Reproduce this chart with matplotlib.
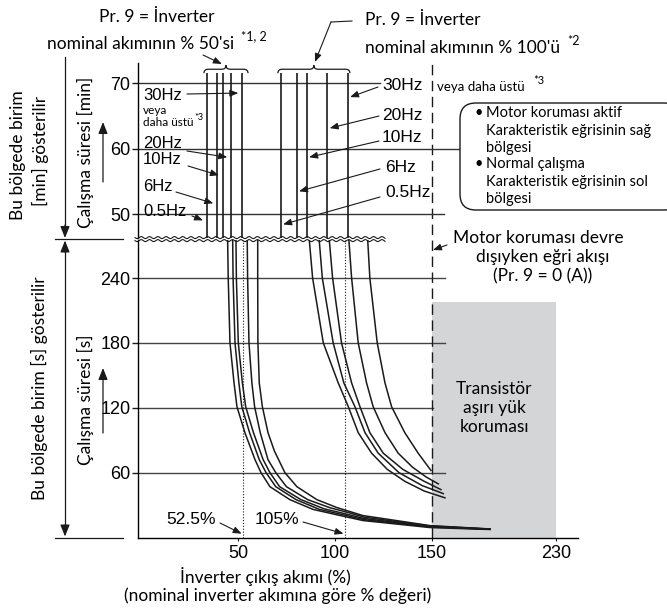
import numpy as np
import matplotlib
matplotlib.use("Agg")
import matplotlib.pyplot as plt
from matplotlib.patches import FancyBboxPatch, Rectangle, PathPatch, FancyArrowPatch
from matplotlib.path import Path
from matplotlib.lines import Line2D
from matplotlib.transforms import IdentityTransform

# ---------------- data ----------------
x_ticks = [50, 100, 150, 230]
x_ticklabels = ["50", "100", "150", "230"]
y_ticks_min = [50, 60, 70]
y_ticks_s = [60, 120, 180, 240]
freq_labels = ["0.5Hz", "6Hz", "10Hz", "20Hz", "30Hz"]

# vertical lines in the [min] region
upper_50 = [33.9, 39.2, 42.1, 46.4, 52.1]
upper_100 = [72.0, 80.2, 85.4, 96.0, 106.5]

# curves in the [s] region, Pr.9 = 50 %
c50_x = [
    [44.7, 45.0, 45.9, 48.0, 49.5, 53.6, 58.8, 61.9, 66.5, 76.8, 88.7, 101, 114.4, 149, 187.4],
    [47.3, 47.5, 48.5, 50.5, 52.0, 56.0, 61.0, 64.5, 69.5, 80.0, 92.0, 103, 115.0, 149, 187.4],
    [49.0, 49.2, 50.2, 52.3, 54.0, 58.0, 63.0, 66.5, 71.5, 82.5, 94.5, 104, 115.0, 149, 187.4],
    [54.8, 55.0, 55.7, 57.2, 58.6, 61.5, 65.5, 69.5, 75.0, 86.0, 97.5, 106, 115.0, 149, 187.4],
    [60.2, 60.2, 60.3, 61.0, 62.6, 65.5, 68.8, 74.2, 80.4, 90.7, 101, 114.4, 149, 187.4],
]
c50_t = [
    [275, 240, 180, 143, 121, 97, 72, 60, 47, 35, 26.0, 21.0, 15.7, 9.2, 7.4],
    [275, 240, 180, 143, 121, 97, 72, 60, 47, 35, 26.0, 21.5, 16.5, 9.8, 7.6],
    [275, 240, 180, 143, 121, 97, 72, 60, 47, 35, 26.5, 22.5, 17.5, 10.2, 7.7],
    [275, 240, 180, 143, 121, 97, 72, 60, 47, 35, 27.5, 23.5, 18.8, 10.6, 7.8],
    [275, 240, 180, 143, 121, 97, 80, 60, 47, 35, 27.7, 20.3, 11.0, 7.9],
]
# curves in the [s] region, Pr.9 = 100 %
c100_x = [
    [86.8, 88.5, 94.0, 101.7, 106.9, 112.0, 118.9, 127, 136, 146, 158.4],
    [91.9, 93.5, 99.1, 104.6, 110.3, 115.5, 122.3, 133, 145, 157.3],
    [97.1, 98.8, 103.4, 108.6, 112.9, 118.0, 124.9, 135, 146, 155.8],
    [107.2, 108.6, 112.0, 116.3, 119.7, 125.8, 132.6, 140, 147, 154.1],
    [116.9, 118.0, 121.8, 125.8, 129.2, 136.0, 142.9, 149.5],
]
c100_t = [
    [275, 240, 180, 143, 121, 97, 78, 63, 52, 43, 36.7],
    [275, 240, 180, 143, 121, 97, 78, 60, 48, 40.6],
    [275, 240, 180, 143, 121, 97, 78, 63, 52, 44.3],
    [275, 240, 180, 143, 121, 97, 78, 65, 56, 49.6],
    [275, 240, 180, 143, 121, 97, 78, 62],
]
pct_marks = [52.5, 105]
pct_labels = ["52.5%", "105%"]
no_protect_x = 150
transistor_zone = (150, 230, 218)

# ---------------- figure ----------------
W, H = 667, 609
fig = plt.figure(figsize=(W / 100, H / 100), dpi=100)
TXT = "Lato"
NUM = "Liberation Sans"
INK = "#1a1a1a"
ID = IdentityTransform()


def fp(x, y):
    return (x, H - y)


def fwd(x):
    x = np.asarray(x, float)
    return np.where(x <= 150, x, 150 + (x - 150) * 0.8)


def inv(x):
    x = np.asarray(x, float)
    return np.where(x <= 150, x, 150 + (x - 150) / 0.8)


ax_lo = fig.add_axes([138 / W, (H - 537.5) / H, 440 / W, (537.5 - 240) / H])
ax_hi = fig.add_axes([138 / W, (H - 238) / H, 440 / W, (238 - 63) / H])
for ax in (ax_lo, ax_hi):
    ax.set_xscale("function", functions=(fwd, inv))
    ax.set_xlim(-1.5, 244.1)
    ax.patch.set_alpha(0)
    for s in ("top", "right"):
        ax.spines[s].set_visible(False)
    ax.spines["left"].set_linewidth(1.0)
    ax.spines["bottom"].set_linewidth(1.0)
ax_lo.set_ylim(0, 275.2)
ax_hi.set_ylim(46.4, 73.05)
ax_hi.spines["bottom"].set_visible(False)

ax_hi.set_xticks([])
ax_hi.set_yticks(y_ticks_min)
ax_hi.set_yticklabels([str(v) for v in y_ticks_min], fontfamily=NUM, fontsize=13)
ax_lo.set_yticks(y_ticks_s)
ax_lo.set_yticklabels([str(v) for v in y_ticks_s], fontfamily=NUM, fontsize=13)
ax_lo.set_xticks(x_ticks)
ax_lo.set_xticklabels(x_ticklabels, fontfamily=NUM, fontsize=13)
ax_lo.xaxis.set_minor_locator(matplotlib.ticker.NullLocator())
ax_hi.xaxis.set_minor_locator(matplotlib.ticker.NullLocator())
for ax in (ax_lo, ax_hi):
    ax.tick_params(axis="y", length=4, width=1, pad=1.5, color=INK)
ax_lo.tick_params(axis="x", length=2.5, width=0.8, pad=3, color=INK)

# gridlines
hi_ends = [158, 170, 123]
for v, e in zip(y_ticks_min, hi_ends):
    ax_hi.plot([-1.5, e], [v, v], color="#333333", lw=1.0, clip_on=False, zorder=1)
lo_ends = [158.4, 150.6, 158.4, 158.4]
for v, e in zip(y_ticks_s, lo_ends):
    ax_lo.plot([-1.5, e], [v, v], color="#444444", lw=1.0, clip_on=False, zorder=1)

# transistor zone
x0, x1, ytop = transistor_zone
ax_lo.add_patch(Rectangle((x0, 0), x1 - x0, ytop, facecolor="#d4d5d7",
                          edgecolor="none", zorder=0.5))

# vertical lines in [min] region
ax_hi.vlines(upper_50, 46.4, 71.5, color=INK, lw=1.2, zorder=2)
ax_hi.vlines(upper_100, 46.4, 71.5, color=INK, lw=1.2, zorder=2)

# curves
for xs, ts in zip(c50_x, c50_t):
    ax_lo.plot(xs, ts, color=INK, lw=1.1, zorder=2, solid_joinstyle="round")
for xs, ts in zip(c100_x, c100_t):
    ax_lo.plot(xs, ts, color=INK, lw=1.1, zorder=2, solid_joinstyle="round")

# dotted marks
for v in pct_marks:
    ax_lo.plot([v, v], [0, 275.2], color=INK, lw=0.8, ls=(0, (1, 1.6)), zorder=1.5)

# dashed no-protection line
ax_lo.plot([no_protect_x] * 2, [0, 443], color=INK, lw=1.0, ls=(0, (7.5, 4)),
           clip_on=False, zorder=2)


# braces
def brace(ax, xl, xr):
    xm = (xl + xr) / 2
    yb, d, dx = 72.1, 0.6, 2.2
    verts = [(xl, yb - d), (xl, yb), (xl + dx, yb), (xm - dx, yb), (xm, yb),
             (xm, yb + d), (xm, yb), (xm + dx, yb), (xr - dx, yb), (xr, yb), (xr, yb - d)]
    codes = [Path.MOVETO, Path.CURVE3, Path.CURVE3, Path.LINETO, Path.CURVE3, Path.CURVE3,
             Path.CURVE3, Path.CURVE3, Path.LINETO, Path.CURVE3, Path.CURVE3]
    ax.add_patch(PathPatch(Path(verts, codes), fc="none", ec=INK, lw=0.9, clip_on=False))


brace(ax_hi, min(upper_50) - 1.4, max(upper_50) + 3.1)
brace(ax_hi, min(upper_100) - 1.4, max(upper_100) + 1.2)

arw = dict(arrowstyle="-|>,head_length=0.5,head_width=0.2", color=INK, lw=0.8,
           shrinkA=0, shrinkB=0)

# brace arrows
ax_hi.annotate("", xy=(41.7, 72.9), xycoords="data", xytext=fp(203, 55),
               textcoords="figure pixels", arrowprops=arw, annotation_clip=False)
ax_hi.annotate("", xy=(89.7, 73.2), xycoords="data", xytext=fp(331, 22),
               textcoords="figure pixels", arrowprops=arw, annotation_clip=False)
fig.add_artist(Line2D([331, 352], [H - 22, H - 21], color=INK, lw=0.8, transform=ID))

# frequency labels (50 % group, left)
left_txt_y = [211, 186, 160, 144, 96]
left_tail = [(192, 216), (176, 192), (188, 166), (187, 151), (187, 94)]
left_tip_y = [49.08, 51.68, 55.95, 58.70, 68.47]
for lab, ty, tail, tipy, lx in zip(freq_labels, left_txt_y, left_tail, left_tip_y, upper_50):
    fig.text(143 / W, 1 - ty / H, lab, fontfamily=NUM, fontsize=12, ha="left", va="center")
    ax_hi.annotate("", xy=(lx - 1.9, tipy), xycoords="data", xytext=fp(*tail),
                   textcoords="figure pixels", arrowprops=arw, annotation_clip=False)
fig.text(143 / W, 1 - 110 / H, "veya", fontfamily=TXT, fontsize=8.5, ha="left", va="center")
fig.text(143 / W, 1 - 123 / H, "daha üstü", fontfamily=TXT, fontsize=8.5, ha="left", va="center")
fig.text(194 / W, 1 - 117 / H, "*3", fontfamily=TXT, fontsize=6.5, ha="left", va="center")

# frequency labels (100 % group, right)
right_txt = [(385, 193), (385, 167), (382, 138), (382, 115), (382, 85)]
right_tail = [(380, 197), (380, 169), (379, 141), (379, 116), (378, 87)]
right_tip_y = [48.47, 53.51, 58.70, 63.13, 67.86]
for lab, (tx, ty), tail, tipy, lx in zip(freq_labels, right_txt, right_tail, right_tip_y, upper_100):
    fig.text(tx / W, 1 - ty / H, lab, fontfamily=NUM, fontsize=12.5, ha="left", va="center")
    ax_hi.annotate("", xy=(lx + 1.3, tipy), xycoords="data", xytext=fp(*tail),
                   textcoords="figure pixels", arrowprops=arw, annotation_clip=False)
fig.text(437 / W, 1 - 87 / H, "veya daha üstü", fontfamily=TXT, fontsize=9.5, ha="left", va="center")
fig.text(533 / W, 1 - 80 / H, "*3", fontfamily=TXT, fontsize=8, ha="left", va="center")

# top titles
fig.text(157 / W, 1 - 17 / H, "Pr. 9 = İnverter", fontfamily=TXT, fontsize=12.5, ha="center", va="center")
fig.text(47 / W, 1 - 44 / H, "nominal akımının % 50'si", fontfamily=TXT, fontsize=12.5, ha="left", va="center")
fig.text(241 / W, 1 - 36 / H, "*1, 2", fontfamily=TXT, fontsize=9, ha="left", va="center")
fig.text(365 / W, 1 - 20 / H, "Pr. 9 = İnverter", fontfamily=TXT, fontsize=12.5, ha="left", va="center")
fig.text(365 / W, 1 - 48 / H, "nominal akımının % 100'ü", fontfamily=TXT, fontsize=12.5, ha="left", va="center")
fig.text(567 / W, 1 - 41 / H, "*2", fontfamily=TXT, fontsize=9, ha="left", va="center")

# legend box
fig.add_artist(FancyBboxPatch((460, H - 210), 220, 107,
                              boxstyle="round,pad=0,rounding_size=16",
                              transform=ID, fc="white", ec=INK, lw=1.0))
leg_lines = [("•", "Motor koruması aktif", 113), (None, "Karakteristik eğrisinin sağ", 131),
             (None, "bölgesi", 148), ("•", "Normal çalışma", 164),
             (None, "Karakteristik eğrisinin sol", 182), (None, "bölgesi", 199)]
for b, t, y in leg_lines:
    if b:
        fig.text(474 / W, 1 - y / H, b, fontfamily=TXT, fontsize=10.5, ha="left", va="center")
    fig.text(486 / W, 1 - y / H, t, fontfamily=TXT, fontsize=10.5, ha="left", va="center")

# no-protection note
fig.text(538 / W, 1 - 238 / H, "Motor koruması devre", fontfamily=TXT, fontsize=12.5, ha="center", va="center")
fig.text(543 / W, 1 - 257 / H, "dışıyken eğri akışı", fontfamily=TXT, fontsize=12.5, ha="center", va="center")
fig.text(543 / W, 1 - 276 / H, "(Pr. 9 = 0 (A))", fontfamily=TXT, fontsize=12.5, ha="center", va="center")
fig.add_artist(FancyArrowPatch(fp(447, 245), fp(433, 250),
               arrowstyle="-|>,head_length=0.5,head_width=0.2", mutation_scale=10,
               color=INK, lw=0.8, transform=ID, shrinkA=0, shrinkB=0))

# transistor text
ax_lo.text(190, 120, "Transistör\naşırı yük\nkoruması", fontfamily=TXT, fontsize=12.5,
           ha="center", va="center", linespacing=1.25, zorder=3)

# percent annotations
pct_text = [(191, 520), (277, 520)]
pct_tail = [(220, 523), (303, 522)]
for v, lab, (tx, ty), tail in zip(pct_marks, pct_labels, pct_text, pct_tail):
    fig.text(tx / W, 1 - ty / H, lab, fontfamily=NUM, fontsize=12.5, ha="center", va="center")
    ax_lo.annotate("", xy=(v - 0.6, 3.5), xycoords="data", xytext=fp(*tail),
                   textcoords="figure pixels", arrowprops=arw, annotation_clip=False)

# axis titles
fig.text(265 / W, 1 - 577 / H, "İnverter çıkış akımı (%)", fontfamily=TXT, fontsize=12.5, ha="center", va="center")
fig.text(278 / W, 1 - 596 / H, "(nominal inverter akımına göre % değeri)", fontfamily=TXT, fontsize=12.5,
         ha="center", va="center")
fig.text(18 / W, 1 - 155 / H, "Bu bölgede birim", fontfamily=TXT, fontsize=12.5, rotation=90, ha="center", va="center")
fig.text(40 / W, 1 - 151 / H, "[min] gösterilir", fontfamily=TXT, fontsize=12.5, rotation=90, ha="center", va="center")
fig.text(39 / W, 1 - 388 / H, "Bu bölgede birim [s] gösterilir", fontfamily=TXT, fontsize=12.5, rotation=90,
         ha="center", va="center")
fig.text(85 / W, 1 - 152 / H, "Çalışma süresi [min]", fontfamily=TXT, fontsize=12.5, rotation=90, ha="center", va="center")
fig.text(85 / W, 1 - 400 / H, "Çalışma süresi [s]", fontfamily=TXT, fontsize=12.5, rotation=90, ha="center", va="center")

# side arrows / brackets
sarw = dict(arrowstyle="-|>,head_length=0.7,head_width=0.28", mutation_scale=10,
            color=INK, lw=0.9, shrinkA=0, shrinkB=0, transform=ID)
fig.add_artist(Line2D([65, 65], [H - 57, H - 232], color=INK, lw=0.9, transform=ID))
fig.add_artist(FancyArrowPatch(fp(65, 225), fp(65, 238), **sarw))
fig.add_artist(Line2D([55, 123], [H - 239, H - 239], color=INK, lw=0.9, transform=ID))
fig.add_artist(Line2D([65, 65], [H - 250, H - 530], color=INK, lw=0.9, transform=ID))
fig.add_artist(FancyArrowPatch(fp(65, 252), fp(65, 240.5), **sarw))
fig.add_artist(FancyArrowPatch(fp(65, 525), fp(65, 536.5), **sarw))
fig.add_artist(Line2D([55, 123], [H - 537.5, H - 537.5], color=INK, lw=0.9, transform=ID))
fig.add_artist(FancyArrowPatch(fp(103, 182), fp(103, 122), **sarw))
fig.add_artist(FancyArrowPatch(fp(103, 433), fp(103, 368), **sarw))

# wavy break lines
wx = np.linspace(135, 385, 600)
for y0 in (237.6, 240.6):
    wy = H - (y0 + 1.0 * np.sin(2 * np.pi * (wx - 135) / 8.3))
    fig.add_artist(Line2D(wx, wy, color=INK, lw=0.8, transform=ID))

fig.savefig("out.png", dpi=100)
